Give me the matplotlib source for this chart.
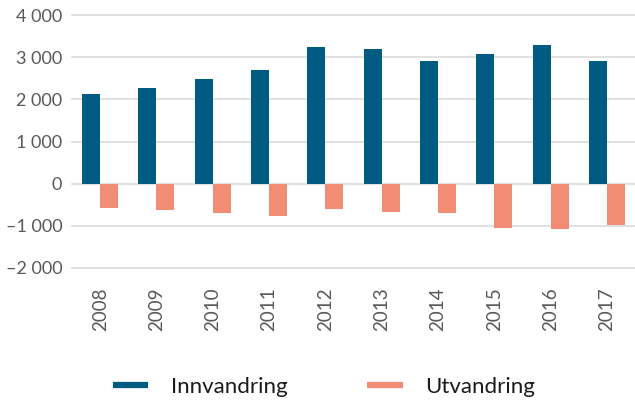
import matplotlib
matplotlib.use("Agg")
import numpy as np
from matplotlib import pyplot as plt
from matplotlib.ticker import FuncFormatter
from matplotlib.lines import Line2D

years = ['2008', '2009', '2010', '2011', '2012', '2013', '2014', '2015', '2016', '2017']
innvandring = [2120, 2260, 2475, 2690, 3240, 3190, 2905, 3070, 3290, 2905]
utvandring = [-570, -620, -690, -760, -595, -665, -690, -1045, -1070, -975]

blue = '#005b82'
salmon = '#f18d75'
gray = '#595959'

plt.rcParams['font.family'] = ['Lato', 'DejaVu Sans']


def fmt(v, pos):
    s = f"{abs(v):,.0f}".replace(",", " ")
    return ("\u2013" + s) if v < 0 else s


def main():
    fig = plt.figure(figsize=(6.35, 4), dpi=100)
    ax = fig.add_axes([72 / 635, 1 - 268 / 400, 1 - 72 / 635, (268 - 15) / 400])

    x = np.arange(len(years))
    w = 0.32
    ax.bar(x - w / 2, innvandring, w, color=blue, zorder=3)
    ax.bar(x + w / 2, utvandring, w, color=salmon, zorder=3)

    ax.set_xlim(-0.5, len(years) - 0.5)
    ax.set_ylim(-2000, 4000)
    ax.set_yticks(range(-2000, 4001, 1000))
    ax.yaxis.set_major_formatter(FuncFormatter(fmt))
    ax.grid(axis='y', color='#dedede', linewidth=1.3, zorder=0)
    for line in ax.get_ygridlines():
        line.set_clip_on(False)

    for s in ax.spines.values():
        s.set_visible(False)

    ax.set_xticks(x)
    ax.set_xticklabels(years, rotation=90)
    ax.tick_params(axis='x', length=0, pad=14, labelsize=13.5, labelcolor=gray)
    ax.tick_params(axis='y', length=0, pad=7, labelsize=13, labelcolor=gray)

    handles = [Line2D([], [], color=blue, linewidth=4.5, solid_capstyle='butt'),
               Line2D([], [], color=salmon, linewidth=4.5, solid_capstyle='butt')]
    fig.legend(handles, ['Innvandring', 'Utvandring'], loc='center',
               bbox_to_anchor=(0.51, 1 - 387 / 400), ncol=2, frameon=False,
               fontsize=16, handlelength=1.6, handletextpad=1.0, columnspacing=3.6,
               labelcolor='#1a1a1a')

    fig.savefig('out.png', dpi=100)


if __name__ == '__main__':
    main()
